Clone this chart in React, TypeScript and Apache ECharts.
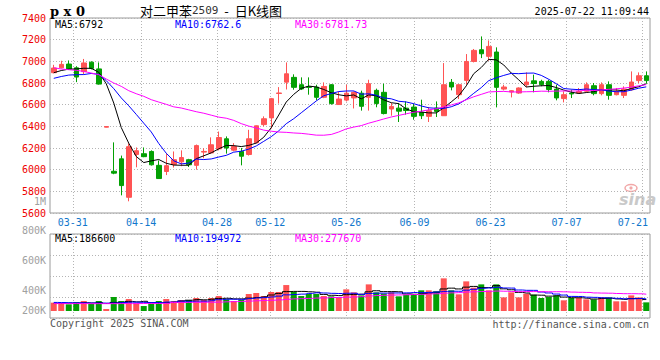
import React, { useEffect, useRef } from 'react';
import * as echarts from 'echarts';

// ---------- data ----------
const dates = ['03-26','03-27','03-28','03-31','04-01','04-02','04-03','04-07','04-08','04-09',
  '04-10','04-11','04-14','04-15','04-16','04-17','04-18','04-21','04-22','04-23',
  '04-24','04-25','04-28','04-29','04-30','05-06','05-07','05-08','05-09','05-12',
  '05-13','05-14','05-15','05-16','05-19','05-20','05-21','05-22','05-23','05-26',
  '05-27','05-28','05-29','05-30','06-03','06-04','06-05','06-06','06-09','06-10',
  '06-11','06-12','06-13','06-16','06-17','06-18','06-19','06-20','06-23','06-24',
  '06-25','06-26','06-27','06-30','07-01','07-02','07-03','07-04','07-07','07-08',
  '07-09','07-10','07-11','07-14','07-15','07-16','07-17','07-18','07-21','07-22'];

const tickDates = ['03-31','04-14','04-28','05-12','05-26','06-09','06-23','07-07','07-21'];

const opens = [6895,6940,6975,6940,6905,6992,6930,6392,5985,6100,
  5745,6140,6147,6168,6040,5983,6048,6072,6092,6040,
  6162,6155,6192,6285,6180,6168,6140,6248,6416,6478,
  6703,6808,6852,6784,6765,6762,6668,6784,6601,6642,
  6662,6706,6668,6732,6714,6560,6568,6568,6578,6529,
  6492,6569,6498,6806,6692,6824,6999,7107,7046,7086,
  6744,6717,6707,6784,6820,6815,6815,6744,6656,6707,
  6708,6724,6775,6702,6784,6692,6686,6738,6822,6867];

const closes = [6938,6972,6930,6855,6985,6935,6790,6398,5968,5853,
  6212,6175,6120,6045,5918,6037,6092,6112,6045,6222,
  6168,6230,6297,6200,6214,6124,6285,6405,6470,6655,
  6708,6885,6760,6745,6760,6668,6768,6610,6652,6706,
  6714,6585,6794,6610,6518,6584,6540,6546,6492,6498,
  6544,6538,6784,6763,6784,6999,7101,7070,7138,6760,
  6763,6729,6754,6809,6795,6785,6740,6662,6692,6699,
  6722,6784,6702,6784,6686,6723,6744,6809,6867,6822];

const highs = [6968,7005,7008,6955,7022,7000,6990,6400,6252,6130,
  6242,6205,6205,6178,6085,6150,6168,6178,6100,6232,
  6198,6298,6352,6307,6245,6200,6368,6408,6492,6662,
  6762,6990,6880,6852,6852,6784,6806,6790,6722,6784,
  6722,6729,6830,6748,6794,6615,6615,6630,6609,6646,
  6578,6630,6984,6837,6790,7067,7114,7230,7193,7129,
  6784,6735,6760,6898,6877,6830,6830,6784,6723,6738,
  6754,6806,6800,6806,6815,6754,6769,6907,6898,6907];

const lows = [6890,6935,6925,6808,6880,6925,6785,6390,5958,5763,
  5708,6022,6115,6038,5915,5950,6020,6032,6025,6000,
  6105,6148,6178,6148,6170,6040,6130,6244,6400,6380,
  6610,6740,6738,6735,6692,6640,6660,6600,6598,6630,
  6565,6545,6545,6576,6510,6498,6440,6508,6461,6467,
  6440,6486,6498,6732,6652,6784,6990,7030,7006,6575,
  6732,6667,6700,6763,6714,6770,6714,6640,6621,6661,
  6700,6715,6686,6686,6646,6686,6661,6729,6800,6794];

const volumes = [136000,125000,109000,141000,163000,114000,163000,32000,228000,163000,
  195000,125000,81000,114000,163000,195000,163000,179000,179000,212000,
  179000,212000,244000,190000,163000,179000,277000,293000,244000,310000,
  310000,423000,310000,244000,277000,277000,244000,239000,217000,353000,
  304000,255000,434000,304000,283000,304000,239000,266000,272000,337000,
  337000,320000,532000,337000,272000,483000,380000,434000,337000,434000,
  222000,304000,222000,283000,266000,212000,228000,255000,174000,212000,
  212000,190000,190000,222000,222000,158000,158000,255000,222000,141000];

// moving-average values before enough bars are visible
const ma5Head = [6895, 6915, 6928, 6930];
const ma10Head = [6843, 6860, 6873, 6877, 6878, 6888, 6880, 6822, 6748];
const ma30Head = [6941, 6929, 6923, 6917, 6907, 6892, 6877, 6837, 6800, 6769,
  6729, 6701, 6677, 6646, 6624, 6603, 6580, 6569, 6552, 6535,
  6521, 6503, 6485, 6475, 6455, 6425, 6402, 6385, 6365];
const volMa5Head = [125000, 125000, 128000, 130000];
const volMa10Head = [140000, 138000, 135000, 133000, 132000, 130000, 130000, 128000, 130000];
const volMa30Head = [121000,121000,121000,121000,121000,120000,120000,120000,120000,121000,
  121000,121000,122000,122000,123000,124000,138000,139000,140000,141000,
  142000,143000,145000,150000,153000,157000,162000,167000,171000];

const priceMin = 5600, priceMax = 7400, priceStep = 200;
const volLabelMin = 200000, volLabelMax = 1000000, volLabelStep = 200000;

const headerTitle = 'p x 0';
const headerName = '对二甲苯';
const headerCode = '2509';
const headerRest = '  -  日K线图';
const headerTime = '2025-07-22 11:09:44';
const priceMaTexts = ['MA5:6792', 'MA10:6762.6', 'MA30:6781.73'];
const volMaTexts = ['MA5:186600', 'MA10:194972', 'MA30:277670'];
const copyright = 'Copyright 2025 SINA.COM';
const siteUrl = 'http://finance.sina.com.cn';

// ---------- styles ----------
const MONO = '"DejaVu Sans Mono", "Liberation Mono", monospace';
const RED = '#ff5454';
const GREEN = '#03a003';
const GRID = '#b4b4b4';
const FRAME = '#9a9a9a';
const BLUE_LABEL = '#1177cc';
const MA_COLORS = ['#000000', '#0000ff', '#ff00ff'];

function movingAverage(values: number[], n: number, head: number[]) {
  return values.map((_, i) => {
    if (i < n - 1) return head[i];
    let s = 0;
    for (let k = i - n + 1; k <= i; k++) s += values[k];
    return +(s / n).toFixed(2);
  });
}

export default function App() {
  const ref = useRef<HTMLDivElement>(null);

  useEffect(() => {
    const chart = echarts.init(ref.current!, undefined, { renderer: 'svg' });
    const tickSet = new Set(tickDates);
    const isTick = (i: number) => tickSet.has(dates[i]);
    const lastTick = tickDates[tickDates.length - 1];

    const ohlc = dates.map((_, i) => [opens[i], closes[i], lows[i], highs[i]]);
    const ma5 = movingAverage(closes, 5, ma5Head);
    const ma10 = movingAverage(closes, 10, ma10Head);
    const ma30 = movingAverage(closes, 30, ma30Head);
    const vma5 = movingAverage(volumes, 5, volMa5Head);
    const vma10 = movingAverage(volumes, 10, volMa10Head);
    const vma30 = movingAverage(volumes, 30, volMa30Head);
    const volData = volumes.map((v, i) => ({
      value: v,
      itemStyle: { color: closes[i] >= opens[i] ? RED : GREEN },
    }));

    const dotted = { color: GRID, type: [1, 2] as any, width: 1 };

    const txt = (x: number, y: number, text: string, fill: string, align = 'left', font = `10px ${MONO}`) => ({
      type: 'text', x, y, silent: true, z: 100,
      style: { text, fill, font, align, verticalAlign: 'middle' },
    });

    const volLabel = (v: number) => (v >= 1000000 ? v / 1000000 + 'M' : v / 1000 + 'K');

    const option: any = {
      animation: false,
      backgroundColor: '#ffffff',
      textStyle: { fontFamily: MONO },
      grid: [
        { left: 50, top: 18, width: 600, height: 195, show: true, borderColor: FRAME, borderWidth: 1, outerBoundsMode: 'none', containLabel: false },
        { left: 50, top: 234, width: 600, height: 84, show: true, borderColor: FRAME, borderWidth: 1, outerBoundsMode: 'none', containLabel: false },
        { left: 50, top: 201, width: 600, height: 119, show: false, outerBoundsMode: 'none', containLabel: false },
      ],
      xAxis: [
        { type: 'category', gridIndex: 0, data: dates, boundaryGap: true, position: 'top', show: false },
        {
          type: 'category', gridIndex: 0, data: dates, boundaryGap: false, position: 'bottom',
          axisLine: { show: false }, axisTick: { show: false },
          axisLabel: {
            interval: (i: number) => isTick(i), color: BLUE_LABEL, fontFamily: MONO, fontSize: 10, margin: 4,
            formatter: (v: string) => (v === lastTick ? `{r|${v}}` : v),
            rich: { r: { padding: [0, 19, 0, 0], color: BLUE_LABEL, fontFamily: MONO, fontSize: 10 } },
          },
          splitLine: { show: true, interval: (i: number) => isTick(i), lineStyle: dotted },
        },
        { type: 'category', gridIndex: 1, data: dates, boundaryGap: true, position: 'top', show: false },
        {
          type: 'category', gridIndex: 1, data: dates, boundaryGap: false, position: 'bottom',
          axisLine: { show: false }, axisTick: { show: false }, axisLabel: { show: false },
          splitLine: { show: true, interval: (i: number) => isTick(i), lineStyle: dotted },
        },
        { type: 'category', gridIndex: 2, data: dates, show: false },
      ],
      yAxis: [
        {
          type: 'value', gridIndex: 0, min: priceMin, max: priceMax, interval: priceStep,
          axisLine: { show: false }, axisTick: { show: false },
          axisLabel: { color: '#ee0000', fontFamily: MONO, fontSize: 10, margin: 4, formatter: (v: number) => String(v) },
          splitLine: { show: true, lineStyle: dotted },
        },
        { type: 'value', gridIndex: 1, min: -114000, max: 1255000, show: false },
        {
          type: 'value', gridIndex: 1, min: 0, max: 4, interval: 1, position: 'right',
          axisLine: { show: false }, axisTick: { show: false }, axisLabel: { show: false },
          splitLine: { show: true, lineStyle: dotted },
        },
        {
          type: 'value', gridIndex: 2, min: volLabelMin, max: volLabelMax, interval: volLabelStep,
          axisLine: { show: false }, axisTick: { show: false }, splitLine: { show: false },
          axisLabel: {
            color: '#a0a0a0', fontFamily: MONO, fontSize: 10, margin: 4,
            verticalAlignMinLabel: 'bottom',
            formatter: (v: number) => (v === volLabelMin ? `{lo|${volLabel(v)}}` : volLabel(v)),
            rich: { lo: { color: '#a0a0a0', fontFamily: MONO, fontSize: 10, padding: [0, 0, 5, 0] } },
          },
        },
      ],
      series: [
        {
          type: 'candlestick', xAxisIndex: 0, yAxisIndex: 0, data: ohlc, barWidth: 5,
          itemStyle: { color: RED, color0: GREEN, borderColor: RED, borderColor0: GREEN, borderWidth: 1 },
        },
        ...[ma5, ma10, ma30].map((d, k) => ({
          type: 'line', xAxisIndex: 0, yAxisIndex: 0, data: d, showSymbol: false, symbol: 'none',
          lineStyle: { color: MA_COLORS[k], width: 1 }, z: 3,
        })),
        { type: 'bar', xAxisIndex: 2, yAxisIndex: 1, data: volData, barWidth: 6 },
        ...[vma5, vma10, vma30].map((d, k) => ({
          type: 'line', xAxisIndex: 2, yAxisIndex: 1, data: d, showSymbol: false, symbol: 'none', step: 'middle',
          lineStyle: { color: MA_COLORS[k], width: 1 }, z: 3,
        })),
      ],
      graphic: [
        txt(50, 11.5, headerTitle, '#000', 'left', `bold 13px "DejaVu Serif", serif`),
        {
          type: 'text', x: 140, y: 10.5, silent: true,
          style: {
            text: `${headerName}{c|${headerCode}}${headerRest}`, fill: '#000',
            font: '13px "Noto Sans CJK SC", sans-serif', verticalAlign: 'middle', align: 'left',
            rich: { c: { fill: '#333', font: `11px ${MONO}` } },
          },
        },
        txt(649, 11.5, headerTime, '#000', 'right'),
        txt(55, 24, priceMaTexts[0], MA_COLORS[0]),
        txt(175, 24, priceMaTexts[1], MA_COLORS[1]),
        txt(295, 24, priceMaTexts[2], MA_COLORS[2]),
        txt(55, 238.5, volMaTexts[0], MA_COLORS[0]),
        txt(175, 238.5, volMaTexts[1], MA_COLORS[1]),
        txt(295, 238.5, volMaTexts[2], MA_COLORS[2]),
        txt(50, 323.5, copyright, '#555'),
        txt(649, 324, siteUrl, '#555', 'right'),
        {
          type: 'group', silent: true, z: 50,
          children: [
            { type: 'ellipse', shape: { cx: 631, cy: 188, rx: 6, ry: 3.5 }, style: { fill: 'none', stroke: '#f2a8a8', lineWidth: 1.5 } },
            { type: 'circle', shape: { cx: 631, cy: 188, r: 1.6 }, style: { fill: '#f2a8a8' } },
            { type: 'text', x: 619, y: 199, style: { text: 'sina', fill: '#c9c9c9', font: 'italic bold 16px "DejaVu Sans", sans-serif', verticalAlign: 'middle' } },
          ],
        },
      ],
    };

    chart.setOption(option);
    return () => chart.dispose();
  }, []);

  return (
    <div
      ref={ref}
      style={{ position: 'absolute', left: 0, top: 0, width: 660, height: 360, background: '#fff' }}
    />
  );
}
